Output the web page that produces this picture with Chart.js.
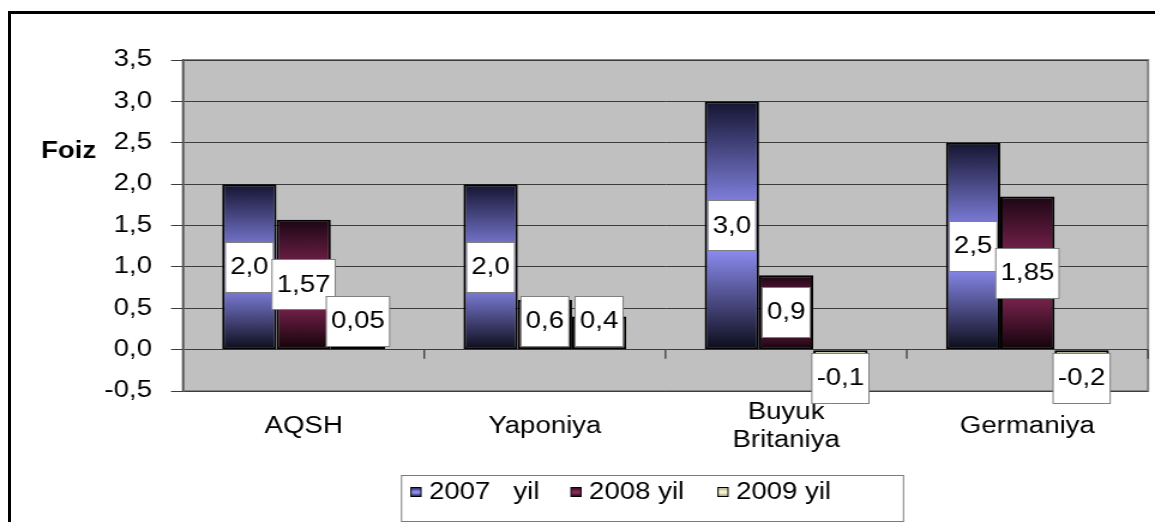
<!DOCTYPE html>
<html>
<head>
<meta charset="utf-8">
<title>Foiz</title>
<script src="https://cdn.jsdelivr.net/npm/chart.js@4.4.1/dist/chart.umd.min.js"></script>
<style>
    html, body { margin: 0; padding: 0; background: #fff; overflow: hidden; }
    #ramka {
        position: absolute; left: 8px; top: 11px;
        width: 2000px; height: 1000px;
        border-left: 3px solid #000; border-top: 3px solid #000;
    }
    #joy { position: absolute; left: 0; top: 0; width: 1155px; height: 522px; }
    /* grafik gorizontal bo'yicha cho'zilgan holda ko'rsatiladi */
    #grafik { width: 1155px !important; height: 522px !important; display: block; }
</style>
</head>
<body>
<div id="ramka"></div>
<div id="joy"><canvas id="grafik" width="963" height="522"></canvas></div>
<script>
// --- MA'LUMOTLAR ---
const davlatlar = ['AQSH', 'Yaponiya', ['Buyuk', 'Britaniya'], 'Germaniya'];
const yil2007 = [2.0, 2.0, 3.0, 2.5];
const yil2008 = [1.57, 0.6, 0.9, 1.85];
const yil2009 = [0.05, 0.4, -0.1, -0.2];
const seriyaNomlari = ['2007   yil', '2008 yil', '2009 yil'];
const oqiNomi = 'Foiz';

const SHRIFT = 'Arial, "Liberation Sans", sans-serif';
const CHOZ = 1155 / 963;          // gorizontal cho'zilish koeffitsienti
const px = (v) => v / CHOZ;       // ekran x -> kanvas x

// Har bir seriya uchun gradient ranglari (tepa, o'rta, past)
const ranglar = [
    ['#141430', '#8b8bf0', '#0c0c1a'],
    ['#1c0614', '#8a2858', '#120309'],
    ['#a4a484', '#f2f2cc', '#8c8c6c']
];

function gradientYasash(ctx2d, tepa, past, r) {
    const g = ctx2d.createLinearGradient(0, tepa, 0, past);
    g.addColorStop(0, r[0]);
    g.addColorStop(0.45, r[1]);
    g.addColorStop(0.6, r[1]);
    g.addColorStop(1, r[2]);
    return g;
}

function ustunRangi(r) {
    return (context) => {
        const chart = context.chart;
        if (!chart.chartArea || context.type !== 'data') return r[1];
        const y = chart.scales.y;
        const v = context.raw;
        const tepa = y.getPixelForValue(Math.max(v, 0));
        const past = y.getPixelForValue(Math.min(v, 0));
        if (past - tepa < 1) return r[1];
        return gradientYasash(chart.ctx, tepa, past, r);
    };
}

// 1.57 -> "1,57", 2 -> "2,0"
function formatla(v) {
    const kasr = (String(Math.abs(v)).split('.')[1] || '').length;
    return v.toFixed(Math.max(1, kasr)).replace('.', ',');
}

// Chizma maydoni: kulrang fon va ramka
const fon = {
    id: 'fon',
    beforeDraw(chart) {
        const { ctx, chartArea: a } = chart;
        ctx.save();
        ctx.fillStyle = '#c0c0c0';
        ctx.fillRect(a.left, a.top, a.right - a.left, a.bottom - a.top);
        ctx.strokeStyle = '#868686';
        ctx.lineWidth = 2;
        ctx.strokeRect(a.left, a.top, a.right - a.left, a.bottom - a.top);
        ctx.restore();
    },
    afterDraw(chart) {
        const { ctx, scales: { x, y } } = chart;
        const nol = y.getPixelForValue(0);
        ctx.save();
        // kategoriya chegaralaridagi belgilar (nol chizig'ida)
        ctx.strokeStyle = '#333';
        ctx.lineWidth = 1.2;
        const qadam = (x.right - x.left) / davlatlar.length;
        for (let i = 1; i <= davlatlar.length; i++) {
            const bx = x.left + i * qadam;
            ctx.beginPath();
            ctx.moveTo(bx, nol);
            ctx.lineTo(bx, nol + 9);
            ctx.stroke();
        }
        // "Foiz" sarlavhasi
        ctx.fillStyle = '#000';
        ctx.font = 'bold 23px ' + SHRIFT;
        ctx.textAlign = 'left';
        ctx.textBaseline = 'middle';
        ctx.fillText(oqiNomi, px(41), 152);
        ctx.restore();
    }
};

// Ustunlar ustidagi oq qutichali yorliqlar
const yorliqlar = {
    id: 'yorliqlar',
    afterDatasetsDraw(chart) {
        const { ctx, scales: { y } } = chart;
        const nol = y.getPixelForValue(0);
        ctx.save();
        ctx.font = '23px ' + SHRIFT;
        ctx.textAlign = 'center';
        ctx.textBaseline = 'middle';
        chart.data.datasets.forEach((ds, di) => {
            chart.getDatasetMeta(di).data.forEach((bar, i) => {
                const v = ds.data[i];
                const matn = formatla(v);
                const w = ctx.measureText(matn).width + 8;
                const h = 50;
                let cy = (bar.y + bar.base) / 2;
                if (v >= 0) cy = Math.min(cy, nol - 4 - h / 2);
                else cy = Math.max(cy, nol + 3 + h / 2);
                const bx = bar.x - w / 2;
                const by = Math.round(cy - h / 2) + 0.5;
                ctx.fillStyle = '#fff';
                ctx.fillRect(bx, by, w, h);
                ctx.strokeStyle = '#808080';
                ctx.lineWidth = 1;
                ctx.strokeRect(bx, by, w, h);
                ctx.fillStyle = '#000';
                ctx.fillText(matn, bar.x, cy + 1);
            });
        });
        ctx.restore();
    }
};

// Pastdagi legenda
const legenda = {
    id: 'legenda',
    afterDraw(chart) {
        const ctx = chart.ctx;
        ctx.save();
        ctx.strokeStyle = '#7a7a7a';
        ctx.lineWidth = 1;
        ctx.strokeRect(px(401.5), 475.5, px(502), 46);
        const kvadratX = [411, 571, 718];
        ctx.font = '23px ' + SHRIFT;
        ctx.textAlign = 'left';
        ctx.textBaseline = 'middle';
        seriyaNomlari.forEach((nom, i) => {
            const kx = px(kvadratX[i]), ky = 487;
            ctx.fillStyle = gradientYasash(ctx, ky, ky + 10, ranglar[i]);
            ctx.fillRect(kx, ky, px(10), 10);
            ctx.strokeStyle = '#000';
            ctx.strokeRect(kx, ky + 0.5, px(10), 9);
            ctx.fillStyle = '#000';
            ctx.fillText(nom, kx + px(18), 493);
        });
        ctx.restore();
    }
};

const maLumotlar = [yil2007, yil2008, yil2009];

new Chart(document.getElementById('grafik').getContext('2d'), {
    type: 'bar',
    data: {
        labels: davlatlar,
        datasets: maLumotlar.map((qator, i) => ({
            label: seriyaNomlari[i],
            data: qator,
            backgroundColor: ustunRangi(ranglar[i]),
            borderColor: '#000',
            borderWidth: 2,
            borderSkipped: false,
            categoryPercentage: 0.675,
            barPercentage: 1.0
        }))
    },
    options: {
        responsive: false,
        animation: false,
        devicePixelRatio: 1,
        layout: { padding: { top: 60, right: px(7), left: 0, bottom: 0 } },
        plugins: {
            legend: { display: false },
            tooltip: { enabled: false }
        },
        scales: {
            x: {
                grid: { display: false, drawTicks: false },
                border: { display: false },
                ticks: {
                    color: '#000',
                    font: { family: SHRIFT, size: 23, lineHeight: 1.2 },
                    padding: 22,
                    crossAlign: 'center',
                    maxRotation: 0
                },
                afterFit(scale) { scale.height = 131; }
            },
            y: {
                min: -0.5,
                max: 3.5,
                grid: {
                    color: '#3c3c3c',
                    lineWidth: 1,
                    tickLength: px(12),
                    tickColor: '#3c3c3c'
                },
                border: { color: '#555', width: 1.5 },
                ticks: {
                    stepSize: 0.5,
                    color: '#000',
                    padding: px(19),
                    font: { family: SHRIFT, size: 23 },
                    callback: (v) => v.toFixed(1).replace('.', ',')
                },
                afterFit(scale) { scale.width = px(183); }
            }
        }
    },
    plugins: [fon, yorliqlar, legenda]
});
</script>
</body>
</html>
